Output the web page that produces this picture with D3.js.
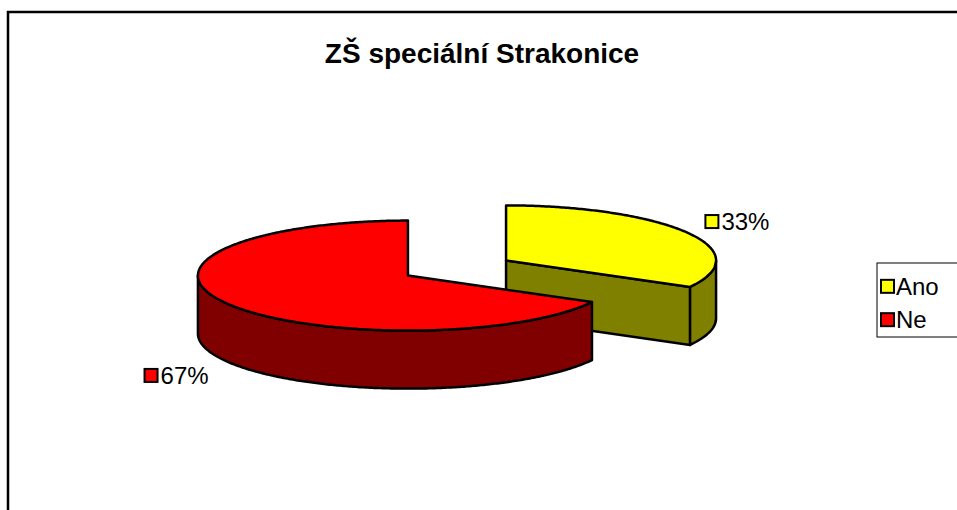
<!DOCTYPE html>
<html>
<head>
<meta charset="utf-8">
<script src="https://cdn.jsdelivr.net/npm/d3@7"></script>
<style>
  html, body { margin: 0; padding: 0; background: #fff; overflow: hidden; }
  text { font-family: "Liberation Sans", Arial, sans-serif; }
</style>
</head>
<body>
<svg id="chart" width="957" height="510"></svg>
<script>
// data
var categories = ["Ano", "Ne"];
var values = [33, 67];
var labels = ["33%", "67%"];
var topColors = ["#FFFF00", "#FF0000"];
var sideColors = ["#808000", "#800000"];
var title = "ZŠ speciální Strakonice";

// layout of the 3d pie
var cx = 457, cy = 268;
var rx = 210, ry = 55;
var depth = 58;
var explode = 57;

var svg = d3.select("#chart");

// chart frame (runs off right and bottom)
svg.append("rect")
  .attr("x", 8).attr("y", 12)
  .attr("width", 1000).attr("height", 600)
  .attr("fill", "#fff")
  .attr("stroke", "#000")
  .attr("stroke-width", 2.5);

svg.append("text")
  .attr("x", 482).attr("y", 63)
  .attr("text-anchor", "middle")
  .attr("font-size", 28)
  .attr("font-weight", "bold")
  .text(title);

var pie = d3.pie().sort(null).startAngle(0).endAngle(2 * Math.PI);
var arcs = pie(values);

var line = d3.line();

function pt(c, a, k, dy) {
  return [c[0] + k * rx * Math.sin(a), c[1] - k * ry * Math.cos(a) + (dy || 0)];
}
function arcPts(c, a0, a1, dy) {
  var n = Math.max(2, Math.ceil(Math.abs(a1 - a0) / 0.01));
  return d3.range(n + 1).map(function(i) {
    return pt(c, a0 + (a1 - a0) * i / n, 1, dy);
  });
}

// centre of each exploded slice
arcs.forEach(function(d) {
  var mid = (d.startAngle + d.endAngle) / 2;
  d.mid = mid;
  d.c = [cx + explode * Math.sin(mid), cy - explode * (ry / rx) * Math.cos(mid)];
});

// back slices first
var order = arcs.slice().sort(function(a, b) { return a.c[1] - b.c[1]; });

var g = svg.append("g");
order.forEach(function(d) {
  var i = d.index;
  var c = d.c;
  var slice = g.append("g");
  var style = function(sel, fill) {
    sel.attr("fill", fill).attr("stroke", "#000")
      .attr("stroke-width", 2.5).attr("stroke-linejoin", "round");
  };

  // flat cut faces
  if (Math.sin(d.endAngle) > 0.001) {
    var e = pt(c, d.endAngle, 1);
    slice.append("path")
      .attr("d", line([c, e, [e[0], e[1] + depth], [c[0], c[1] + depth]]) + "Z")
      .call(style, sideColors[i]);
  }
  if (Math.sin(d.startAngle) < -0.001) {
    var s = pt(c, d.startAngle, 1);
    slice.append("path")
      .attr("d", line([c, s, [s[0], s[1] + depth], [c[0], c[1] + depth]]) + "Z")
      .call(style, sideColors[i]);
  }

  // outer wall, front half only
  var w0 = Math.max(d.startAngle, Math.PI / 2);
  var w1 = Math.min(d.endAngle, 3 * Math.PI / 2);
  if (w1 > w0) {
    var wall = arcPts(c, w0, w1, 0).concat(arcPts(c, w1, w0, depth));
    slice.append("path")
      .attr("d", line(wall) + "Z")
      .call(style, sideColors[i]);
  }

  // top face
  var top = [c].concat(arcPts(c, d.startAngle, d.endAngle, 0));
  slice.append("path")
    .attr("d", line(top) + "Z")
    .call(style, topColors[i]);
});

// data labels
arcs.forEach(function(d) {
  var p = pt(d.c, d.mid, 1.28, Math.cos(d.mid) < 0 ? depth + 6 : -3);
  var lg = svg.append("g");
  var t = lg.append("text")
    .attr("font-size", 24)
    .attr("dy", "0.36em")
    .text(labels[d.index]);
  var w = t.node().getComputedTextLength();
  var total = 13 + 3 + w;
  var x0 = p[0] - total / 2;
  lg.insert("rect", "text")
    .attr("x", x0).attr("y", p[1] - 6.5)
    .attr("width", 13).attr("height", 13)
    .attr("fill", topColors[d.index])
    .attr("stroke", "#000").attr("stroke-width", 2);
  t.attr("x", x0 + 16).attr("y", p[1]);
});

// legend
var legend = svg.append("g");
legend.append("rect")
  .attr("x", 877).attr("y", 263)
  .attr("width", 100).attr("height", 74)
  .attr("fill", "#fff")
  .attr("stroke", "#000").attr("stroke-width", 1);

var ly = d3.scaleBand().domain(categories).range([268, 338]).padding(0.1);
categories.forEach(function(cat, i) {
  var yc = ly(cat) + ly.bandwidth() / 2;
  legend.append("rect")
    .attr("x", 881).attr("y", yc - 6.5)
    .attr("width", 13).attr("height", 13)
    .attr("fill", topColors[i])
    .attr("stroke", "#000").attr("stroke-width", 2);
  legend.append("text")
    .attr("x", 896).attr("y", yc)
    .attr("dy", "0.36em")
    .attr("font-size", 24)
    .text(cat);
});
</script>
</body>
</html>
